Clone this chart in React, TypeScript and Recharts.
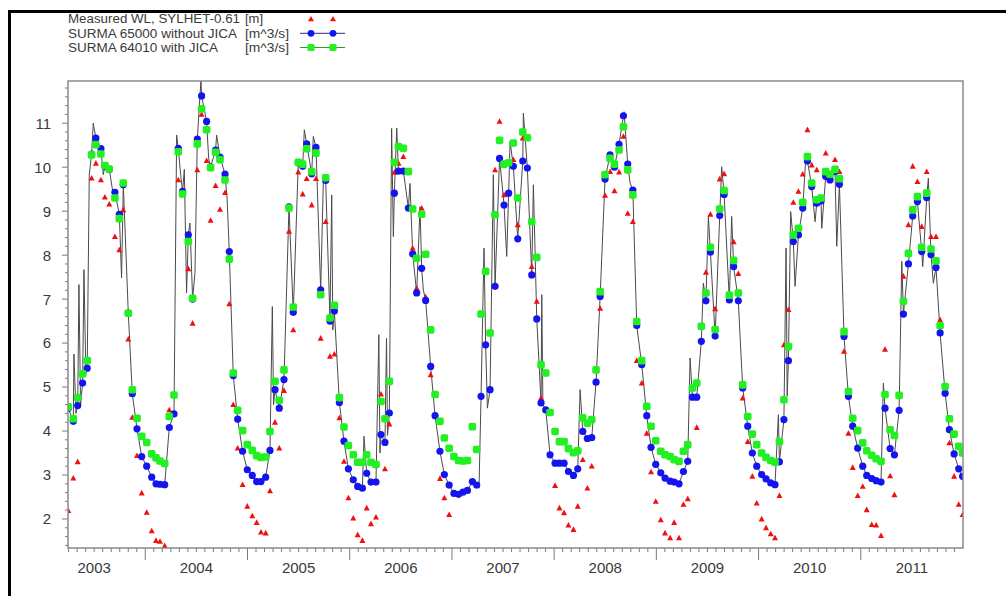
import React from 'react';
import { ComposedChart, Line, XAxis, YAxis } from 'recharts';

// Marker dates (decimal years), roughly semi-monthly
const markerT = [
  2003.247, 2003.296, 2003.339, 2003.387, 2003.432, 2003.475, 2003.517, 2003.566, 2003.605, 2003.648, 2003.703, 2003.746, 2003.785, 2003.834, 2003.873, 2003.919, 2003.965,
  2004.014, 2004.063, 2004.105, 2004.144, 2004.190, 2004.235, 2004.281, 2004.323, 2004.365, 2004.421, 2004.463, 2004.509, 2004.551, 2004.600, 2004.639, 2004.688, 2004.731, 2004.780, 2004.822, 2004.861, 2004.904, 2004.952, 2004.998,
  2005.047, 2005.090, 2005.132, 2005.178, 2005.220, 2005.269, 2005.311, 2005.357, 2005.406, 2005.448, 2005.497, 2005.540, 2005.579, 2005.628, 2005.670, 2005.716, 2005.765, 2005.807, 2005.850, 2005.899, 2005.944, 2005.987,
  2006.035, 2006.078, 2006.124, 2006.166, 2006.208, 2006.257, 2006.306, 2006.345, 2006.388, 2006.437, 2006.477, 2006.525, 2006.574, 2006.616, 2006.655, 2006.704, 2006.743, 2006.792, 2006.835, 2006.883, 2006.926, 2006.973,
  2007.020, 2007.065, 2007.108, 2007.152, 2007.200, 2007.242, 2007.285, 2007.330, 2007.373, 2007.422, 2007.466, 2007.510, 2007.555, 2007.601, 2007.644, 2007.693, 2007.738, 2007.781, 2007.830, 2007.872, 2007.918, 2007.960,
  2008.009, 2008.052, 2008.097, 2008.140, 2008.189, 2008.231, 2008.280, 2008.325, 2008.368, 2008.410, 2008.450, 2008.498, 2008.547, 2008.590, 2008.635, 2008.678, 2008.720, 2008.770, 2008.808, 2008.857, 2008.906, 2008.948, 2008.994,
  2009.043, 2009.085, 2009.135, 2009.174, 2009.222, 2009.265, 2009.307, 2009.353, 2009.395, 2009.440, 2009.485, 2009.529, 2009.575, 2009.620, 2009.663, 2009.714, 2009.756, 2009.802, 2009.845, 2009.894, 2009.939, 2009.982,
  2010.030, 2010.073, 2010.119, 2010.161, 2010.204, 2010.248, 2010.292, 2010.340, 2010.390, 2010.432, 2010.478, 2010.520, 2010.569, 2010.611, 2010.657, 2010.699, 2010.748, 2010.791, 2010.836, 2010.879, 2010.921, 2010.970,
  2011.019, 2011.058, 2011.107, 2011.150, 2011.198, 2011.237, 2011.287, 2011.329, 2011.375, 2011.417, 2011.466, 2011.508, 2011.554, 2011.596, 2011.645, 2011.687, 2011.736, 2011.776, 2011.825, 2011.867, 2011.913, 2011.958, 2011.996,
];

// SURMA 65000 without JICA
const blueWL = [
  4.52, 4.22, 4.58, 5.09, 5.43, 10.30, 10.66, 10.42, 10.02, 9.95, 9.43, 8.93, 9.60, 6.68, 4.85, 4.05, 3.42,
  3.20, 2.95, 2.80, 2.79, 2.78, 4.08, 4.39, 10.43, 9.45, 8.46, 7.00, 10.64, 11.62, 11.04, 10.01, 10.39, 10.23, 9.84, 8.08, 5.26, 4.27, 3.54, 3.12,
  2.99, 2.85, 2.85, 2.95, 3.56, 4.94, 4.52, 5.17, 9.10, 6.70, 10.10, 10.02, 10.53, 9.85, 10.45, 7.21, 9.70, 6.50, 6.73, 4.65, 3.77, 3.14,
  2.89, 2.74, 2.70, 3.04, 2.84, 2.84, 3.92, 3.74, 4.41, 9.41, 9.91, 9.91, 9.07, 8.03, 7.14, 7.70, 6.97, 5.47, 4.35, 3.54, 3.01, 2.77,
  2.58, 2.56, 2.61, 2.65, 2.85, 2.77, 4.79, 5.96, 4.94, 7.29, 10.20, 9.14, 9.41, 10.02, 8.37, 10.14, 9.98, 7.55, 6.55, 4.64, 4.48, 3.46,
  3.27, 3.27, 3.27, 3.08, 2.99, 3.14, 3.99, 3.83, 3.85, 5.11, 7.06, 9.73, 10.28, 10.00, 10.52, 11.17, 10.07, 9.48, 6.40, 5.51, 4.35, 3.63, 3.24,
  3.05, 2.93, 2.86, 2.84, 2.80, 3.08, 3.31, 4.77, 4.77, 6.04, 6.96, 8.07, 6.16, 8.90, 9.38, 6.98, 7.74, 6.96, 4.98, 4.11, 3.50, 3.20,
  3.01, 2.91, 2.82, 2.78, 3.30, 4.26, 5.60, 8.31, 8.46, 9.07, 10.14, 9.56, 9.18, 9.23, 9.79, 9.71, 9.90, 9.61, 6.15, 4.79, 4.11, 3.61,
  3.20, 2.99, 2.92, 2.87, 2.84, 4.52, 3.60, 3.46, 4.47, 6.66, 7.80, 8.89, 9.22, 8.08, 9.31, 8.01, 7.72, 6.23, 4.86, 4.03, 3.48, 3.14, 2.97,
];

// SURMA 64010 with JICA
const greenWL = [
  4.55, 4.28, 4.76, 5.30, 5.60, 10.28, 10.51, 10.30, 10.04, 9.96, 9.30, 8.83, 9.64, 6.68, 4.94, 4.29, 3.88,
  3.74, 3.48, 3.39, 3.32, 3.26, 4.33, 4.82, 10.35, 9.39, 8.31, 7.02, 10.53, 11.33, 10.85, 9.99, 10.34, 10.17, 9.71, 7.91, 5.32, 4.47, 4.01, 3.69,
  3.56, 3.44, 3.40, 3.41, 3.99, 5.13, 4.70, 5.39, 9.07, 6.82, 10.11, 10.07, 10.42, 9.90, 10.32, 7.10, 9.76, 6.57, 6.86, 4.76, 4.09, 3.67,
  3.46, 3.29, 3.29, 3.46, 3.29, 3.24, 4.67, 4.28, 5.13, 10.11, 10.47, 10.43, 9.90, 9.05, 7.93, 8.93, 8.02, 6.30, 4.83, 4.22, 3.84, 3.61,
  3.42, 3.33, 3.32, 3.33, 4.10, 3.58, 6.66, 7.63, 6.23, 8.92, 10.61, 10.07, 10.10, 10.55, 9.30, 10.80, 10.67, 8.76, 7.95, 5.51, 5.32, 4.42,
  3.99, 3.76, 3.76, 3.60, 3.51, 3.55, 4.30, 4.18, 4.26, 5.39, 7.17, 9.83, 10.20, 10.07, 10.39, 10.92, 9.94, 9.37, 6.49, 5.60, 4.56, 4.11, 3.78,
  3.54, 3.46, 3.42, 3.35, 3.31, 3.54, 3.69, 4.98, 5.09, 6.38, 7.14, 8.18, 6.31, 9.05, 9.47, 7.09, 7.88, 7.14, 5.05, 4.33, 3.93, 3.69,
  3.50, 3.40, 3.33, 3.29, 3.76, 4.71, 5.92, 8.46, 8.61, 9.20, 10.24, 9.64, 9.26, 9.30, 9.90, 9.84, 9.95, 9.74, 6.26, 4.90, 4.29, 4.01,
  3.73, 3.55, 3.45, 3.37, 3.31, 4.83, 4.03, 3.90, 4.81, 6.95, 8.04, 9.03, 9.33, 8.18, 9.41, 8.14, 7.87, 6.40, 5.01, 4.28, 3.93, 3.65, 3.50,
];

// Measured WL, SYLHET-0.61
const measuredWL: (number | null)[] = [
  2.19, 2.93, 3.30, null, null, 9.75, 10.09, 9.71, 9.32, 9.16, 8.42, 8.12, 9.03, 6.09, 4.31, 3.44, 2.59,
  2.15, 1.73, 1.51, 1.49, 1.39, 4.48, null, 9.71, null, 7.69, 6.45, 9.94, 11.20, 10.15, 8.79, 9.58, 9.04, 9.42, 6.89, 4.60, 3.61, 2.78, 2.29,
  2.07, 1.92, 1.70, 1.68, 2.64, 4.20, 3.61, 4.92, 8.54, 6.30, 9.89, 9.39, 9.74, 9.14, 9.74, 6.11, 8.76, 5.70, 5.75, 4.30, 3.31, 2.48,
  2.02, 1.64, 1.51, 2.25, 1.89, 2.04, 4.84, 3.14, 4.16, 9.88, 10.09, 10.24, null, 8.16, 7.25, 9.07, 7.05, 5.28, null, 2.92, 2.48, 2.10,
  null, null, null, null, null, null, null, null, null, 9.94, 11.04, 9.37, null, 10.17, 8.69, 10.66, null, 7.74, 6.95, 4.75, null, null,
  2.76, 2.25, 2.14, 1.86, 1.76, 2.29, 3.35, 2.70, 3.20, null, 6.79, 9.36, 9.90, 9.46, 9.89, 10.70, 8.95, 8.76, 5.60, 5.09, 3.95, 3.07, 2.40,
  1.98, 1.68, 1.57, 1.92, 1.57, 2.33, 2.46, null, 4.08, null, 7.61, 8.93, 6.78, 9.73, 9.85, null, 8.30, 7.58, 4.75, 3.76, 2.97, 2.36,
  2.00, 1.80, 1.66, 1.57, 2.53, 5.96, 6.76, 9.20, 9.45, 9.84, 10.85, 10.05, 9.94, null, 10.32, null, 10.17, 9.90, 5.81, 3.95, 3.17, 2.53,
  2.74, 2.21, 1.87, 1.86, 1.62, 5.86, 2.98, 2.55, null, 7.52, 8.69, 10.02, 9.67, 8.65, 9.90, 8.42, 8.42, 6.53, null, 3.73, 2.97, 2.33, 2.10,
];

// Extra short-period excursions of the continuous simulated line
const spikeT = [
  2003.302, 2003.322, 2003.351, 2003.367, 2003.400, 2003.419, 2003.452, 2003.491, 2003.589, 2003.687, 2003.768,
  2004.307, 2004.346, 2004.382, 2004.404, 2004.437, 2004.486, 2004.545, 2004.620, 2004.698, 2004.760, 2004.800,
  2005.243, 2005.255, 2005.556, 2005.644, 2005.742, 2005.824, 2005.835, 2006.140, 2006.285, 2006.296, 2006.360, 2006.370,
  2006.410, 2006.427, 2006.460, 2006.590, 2006.688, 2006.720,
  2007.265, 2007.314, 2007.347, 2007.405, 2007.536, 2007.569, 2007.699, 2007.797, 2007.879, 2007.890,
  2008.254, 2008.684, 2008.743, 2009.330,
  2009.460, 2009.509, 2009.639, 2009.737, 2009.819, 2010.194,
  2010.269, 2010.280, 2010.314, 2010.357, 2010.465, 2010.553, 2010.618, 2010.765, 2011.221,
  2011.401, 2011.606, 2011.661, 2011.710,
];
const spikeV = [
  5.75, 4.40, 7.33, 4.60, 7.67, 5.30, 9.82, 11.00, 9.83, 9.37, 7.48,
  10.73, 9.83, 9.95, 7.14, 8.73, 7.60, 11.98, 10.20, 10.73, 10.00, 9.30,
  6.83, 4.60, 10.85, 10.70, 9.67, 9.37, 6.30, 3.88, 6.19, 3.50, 6.11, 3.90,
  10.88, 8.42, 10.89, 9.63, 9.10, 7.21,
  2.70, 8.16, 4.52, 9.83, 7.97, 10.58, 11.23, 9.60, 7.10, 4.60,
  4.94, 11.26, 9.64, 5.66,
  7.36, 8.88, 10.01, 8.88, 6.15, 4.37,
  8.16, 4.80, 8.99, 7.29, 10.32, 8.76, 8.61, 8.20, 5.09,
  7.86, 7.74, 9.75, 7.36,
];

const yearLabels = ['2003', '2004', '2005', '2006', '2007', '2008', '2009', '2010', '2011'];
const yTickLabels = [2, 3, 4, 5, 6, 7, 8, 9, 10, 11];
const legendNames = ['Measured WL, SYLHET-0.61', 'SURMA 65000 without JICA', 'SURMA 64010 with JICA'];
const legendUnits = ['[m]', '[m^3/s]', '[m^3/s]'];

const X_DOMAIN: [number, number] = [2003.244, 2012.0];
const Y_DOMAIN: [number, number] = [1.34, 11.96];

const markers = markerT.map((t, i) => ({ t, blue: blueWL[i], green: greenWL[i], red: measuredWL[i] }));
const simLine = [
  ...markerT.map((t, i) => ({ t, v: blueWL[i] })),
  ...spikeT.map((t, i) => ({ t, v: spikeV[i] })),
].sort((a, b) => a.t - b.t);

const xTicks: number[] = [];
for (let y = 2003; y <= 2011; y++) {
  for (let m = 0; m < 12; m++) {
    const t = y + m / 12;
    if (t >= X_DOMAIN[0] - 1e-9 && t < X_DOMAIN[1] - 1e-6) xTicks.push(t);
  }
}
const yTicks: number[] = [];
for (let k = 7; k <= 59; k++) yTicks.push(k / 5);

const FONT = '"Liberation Sans", Arial, Helvetica, sans-serif';
const TEXT = '#3a3a3a';
const TICK = '#7a7a7a';

const XTick = (props: any) => {
  const { x, y, payload } = props;
  const t = payload.value as number;
  const yr = Math.floor(t + 1e-6);
  const m = Math.round((t - yr) * 12);
  const major = m === 0;
  return (
    <g>
      <line x1={x} x2={x} y1={y} y2={y + (major ? 12 : 4)} stroke={TICK} strokeWidth={1} />
      {m === 6 && (
        <text x={x} y={y + 25} textAnchor="middle" fontSize={15} fill={TEXT} fontFamily={FONT}>
          {yearLabels[yr - 2003]}
        </text>
      )}
    </g>
  );
};

const YTick = (props: any) => {
  const { x, y, payload } = props;
  const v = payload.value as number;
  const r = Math.round(v);
  const major = Math.abs(v - r) < 1e-6;
  return (
    <g>
      <line x1={x} x2={x - (major ? 6 : 3)} y1={y} y2={y} stroke={TICK} strokeWidth={1} />
      {major && yTickLabels.includes(r) && (
        <text x={x - 17} y={y} dy="0.36em" textAnchor="end" fontSize={15} fill={TEXT} fontFamily={FONT}>
          {r}
        </text>
      )}
    </g>
  );
};

const valid = (p: any) => p && p.value != null && Number.isFinite(p.cx) && Number.isFinite(p.cy);

const BlueDot = (p: any) => {
  if (!valid(p)) return <g key={p.key ?? `b${p.index}`} />;
  return <circle key={p.key ?? `b${p.index}`} cx={p.cx} cy={p.cy} r={3.6} fill="#1414f0" />;
};
const GreenDot = (p: any) => {
  if (!valid(p)) return <g key={p.key ?? `g${p.index}`} />;
  return <rect key={p.key ?? `g${p.index}`} x={p.cx - 3.8} y={p.cy - 3.8} width={7.6} height={7.6} rx={1.8} fill="#22f022" />;
};
const RedDot = (p: any) => {
  if (!valid(p)) return <g key={p.key ?? `r${p.index}`} />;
  const { cx, cy } = p;
  return <polygon key={p.key ?? `r${p.index}`} points={`${cx},${cy - 3.2} ${cx + 3},${cy + 2.4} ${cx - 3},${cy + 2.4}`} fill="#f01010" />;
};

export default function App() {
  const W = 1006;
  const H = 596;
  const plot = { left: 68, top: 81, right: 963, bottom: 548 };
  const rows = [19, 33.3, 47.5];
  return (
    <div style={{ position: 'fixed', left: 0, top: 0, width: W, height: H, overflow: 'hidden', background: '#fff' }}>
      <div style={{ position: 'absolute', left: 0, top: 0 }}>
        <ComposedChart
          width={W}
          height={H}
          data={markers}
          margin={{ top: plot.top, right: W - plot.right, bottom: 18, left: 38 }}
          style={{ fontFamily: FONT }}
        >
          <XAxis
            type="number"
            dataKey="t"
            domain={X_DOMAIN}
            allowDataOverflow
            ticks={xTicks}
            interval={0}
            tick={<XTick />}
            tickLine={false}
            axisLine={false}
            tickSize={0}
            tickMargin={0}
            height={30}
          />
          <YAxis
            type="number"
            domain={Y_DOMAIN}
            allowDataOverflow
            ticks={yTicks}
            interval={0}
            tick={<YTick />}
            tickLine={false}
            axisLine={false}
            tickSize={0}
            tickMargin={0}
            width={30}
          />
          <Line
            data={simLine}
            dataKey="v"
            type="linear"
            stroke="#4a4a4a"
            strokeWidth={1}
            dot={false}
            activeDot={false}
            isAnimationActive={false}
          />
          <Line dataKey="red" stroke="none" dot={RedDot} activeDot={false} isAnimationActive={false} />
          <Line dataKey="blue" stroke="none" dot={BlueDot} activeDot={false} isAnimationActive={false} />
          <Line dataKey="green" stroke="none" dot={GreenDot} activeDot={false} isAnimationActive={false} />
        </ComposedChart>
      </div>
      <svg width={W} height={H} style={{ position: 'absolute', left: 0, top: 0, pointerEvents: 'none' }}>
        <rect
          x={plot.left}
          y={plot.top}
          width={plot.right - plot.left}
          height={plot.bottom - plot.top}
          fill="none"
          stroke="#8a8a8a"
          strokeWidth={1.5}
        />
        {legendNames.map((name, i) => (
          <g key={name}>
            <text
              x={68}
              y={rows[i] + 4.3}
              fontSize={12}
              fill={TEXT}
              fontFamily={FONT}
              textLength={[172, 169, 150][i]}
              lengthAdjust="spacingAndGlyphs"
            >
              {name}
            </text>
            <text
              x={245}
              y={rows[i] + 4.3}
              fontSize={12}
              fill={TEXT}
              fontFamily={FONT}
              textLength={[18, 44, 44][i]}
              lengthAdjust="spacingAndGlyphs"
            >
              {legendUnits[i]}
            </text>
          </g>
        ))}
        {[311, 333].map((cx) => (
          <polygon key={`lt${cx}`} points={`${cx},${rows[0] - 3} ${cx + 3},${rows[0] + 2.3} ${cx - 3},${rows[0] + 2.3}`} fill="#f01010" />
        ))}
        <line x1={300} x2={345} y1={rows[1]} y2={rows[1]} stroke="#2a2a7a" strokeWidth={1} />
        {[311, 333].map((cx) => (
          <circle key={`lb${cx}`} cx={cx} cy={rows[1]} r={3.4} fill="#1414f0" />
        ))}
        <line x1={300} x2={345} y1={rows[2]} y2={rows[2]} stroke="#2aa02a" strokeWidth={1} />
        {[311, 333].map((cx) => (
          <rect key={`lg${cx}`} x={cx - 3.6} y={rows[2] - 3.6} width={7.2} height={7.2} rx={1.6} fill="#22f022" />
        ))}
      </svg>
      <div
        style={{
          position: 'absolute',
          left: 8,
          top: 10,
          width: 1020,
          height: 620,
          border: '3px solid #000',
          boxSizing: 'border-box',
          pointerEvents: 'none',
        }}
      />
    </div>
  );
}
